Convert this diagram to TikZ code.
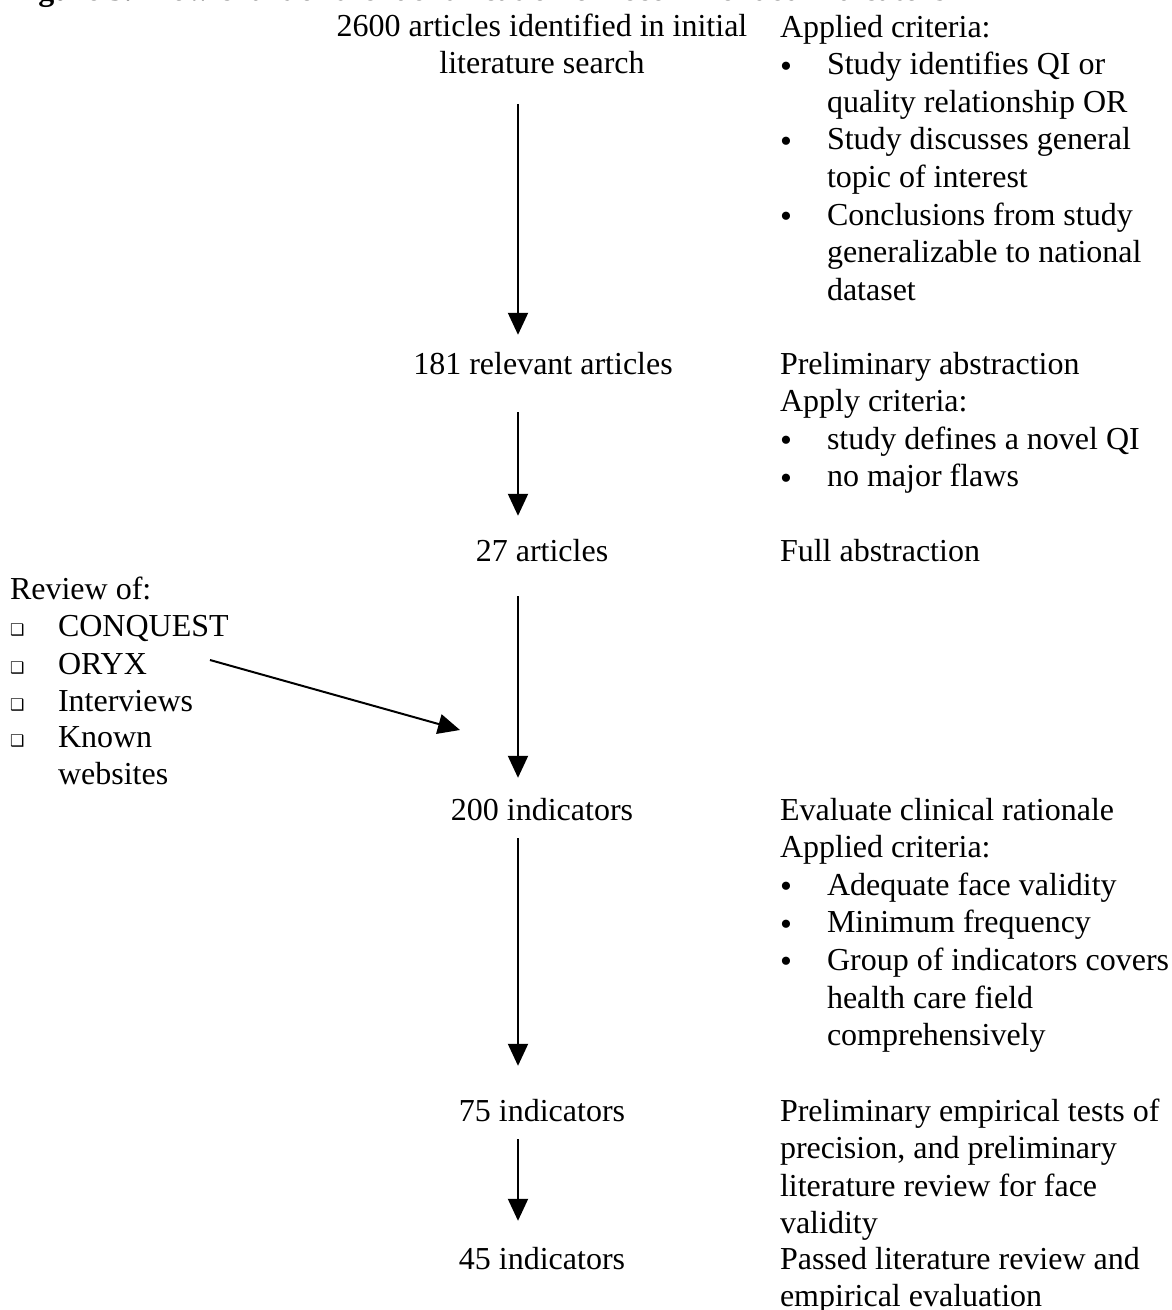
\documentclass[tikz,border=0pt]{standalone}
\usepackage{fontspec}
\setmainfont{Liberation Serif}
\newfontfamily\dvsans{DejaVu Sans}
\usetikzlibrary{arrows.meta}
\newcommand{\chkbx}{\makebox[48pt][l]{\raisebox{1pt}{\dvsans\fontsize{16}{16}\selectfont ❑}}}
\newcommand{\bul}{\makebox[47pt][l]{\raisebox{-2.5pt}{\fontsize{34}{34}\selectfont •}}}
\newcommand{\ind}{\hspace*{47pt}}
\begin{document}
\begin{tikzpicture}[x=1pt,y=1pt,
  txt/.style={inner sep=0pt, outer sep=0pt, font=\fontsize{32}{37.6}\selectfont, align=left, anchor=base west},
  ctr/.style={txt, align=center, anchor=base},
  arr/.style={line width=2pt, -{Triangle[width=20pt,length=22pt]}}]
\useasboundingbox (0,0) rectangle (1172,-1310);
\fill[white] (0,0) rectangle (1172,-1310);
% cut-off title
\begin{scope}
\clip (0,0) rectangle (1172,-9);
\node[inner sep=0pt, outer sep=0pt, anchor=base west, font=\bfseries\fontsize{32}{37.6}\selectfont] (title) at (10,0) {Figure 3. Flow chart of the identification of recommended indicators};
\end{scope}
% left flow column (base anchor = last line)
\node[ctr] (n1) at (542,-73.6) {2600 articles identified in initial\\literature search};
\node[ctr] (n2) at (543,-374) {181 relevant articles};
\node[ctr] (n3) at (542,-561) {27 articles};
\node[ctr] (n4) at (542,-820) {200 indicators};
\node[ctr] (n5) at (542,-1121) {75 indicators};
\node[ctr] (n6) at (542,-1269) {45 indicators};
% right column
\node[txt] (r1) at (780,-300.2) {Applied criteria:\\\bul Study identifies QI or\\\ind quality relationship OR\\\bul Study discusses general\\\ind topic of interest\\\bul Conclusions from study\\\ind generalizable to national\\\ind dataset};
\node[txt] (r2) at (780,-486.8) {Preliminary abstraction\\Apply criteria:\\\bul study defines a novel QI\\\bul no major flaws};
\node[txt] (r3) at (780,-561) {Full abstraction};
\node[txt] (r4) at (780,-1045.6) {Evaluate clinical rationale\\Applied criteria:\\\bul Adequate face validity\\\bul Minimum frequency\\\bul Group of indicators covers\\\ind health care field\\\ind comprehensively};
\node[txt] (r5) at (780,-1233.8) {Preliminary empirical tests of\\precision, and preliminary\\literature review for face\\validity};
\node[txt] (r6) at (780,-1306.6) {Passed literature review and\\empirical evaluation};
% left list
\node[txt] (l0) at (10,-599) {Review of:};
\node[txt] (l1) at (10,-636) {\chkbx CONQUEST};
\node[txt] (l2) at (10,-674) {\chkbx ORYX};
\node[txt] (l3) at (10,-711) {\chkbx Interviews};
\node[txt] (l4) at (10,-784.6) {\chkbx Known\\\hspace*{48pt}websites};
% arrows
\coordinate (ax) at (518,0);
\draw[arr, shorten <=30pt, shorten >=17pt] (n1.south -| ax) -- (n2.north -| ax);
\draw[arr, shorten <=38pt, shorten >=23pt] (n2.south -| ax) -- (n3.north -| ax);
\draw[arr, shorten <=35pt, shorten >=20pt] (n3.south -| ax) -- (n4.north -| ax);
\draw[arr, shorten <=18pt, shorten >=33pt] (n4.south -| ax) -- (n5.north -| ax);
\draw[arr, shorten <=18pt, shorten >=26pt] (n5.south -| ax) -- (n6.north -| ax);
\coordinate (dstart) at (210,-660);
\coordinate (dend) at (460,-730);
\draw[arr] (dstart) -- (dend);
\end{tikzpicture}
\end{document}
